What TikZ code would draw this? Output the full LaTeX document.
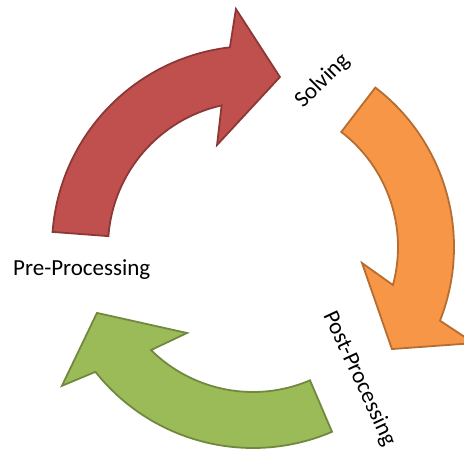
\documentclass[tikz,border=0pt]{standalone}
\usepackage{fontspec}
\setmainfont{Carlito}
\usetikzlibrary{calc}
\definecolor{redF}{HTML}{C0504D}
\definecolor{redD}{HTML}{8C3836}
\definecolor{orF}{HTML}{F79646}
\definecolor{orD}{HTML}{B66D31}
\definecolor{grF}{HTML}{9BBB59}
\definecolor{grD}{HTML}{71893F}
\begin{document}
\begin{tikzpicture}[x=1pt,y=1pt,
  arrowshape/.style={line width=1.8pt, line join=miter},
  redarrow/.style={arrowshape, fill=redF, draw=redD},
  orarrow/.style={arrowshape, fill=orF, draw=orD},
  grarrow/.style={arrowshape, fill=grF, draw=grD},
  lbl/.style={font=\fontsize{23}{27}\selectfont, inner sep=0pt, text=black}]
\path[use as bounding box] (0,0) rectangle (464,-454);
\clip (0,0) rectangle (464,-454);
\coordinate (C) at (253,-247);
% red arrow
\path[redarrow] ($(C)+(175.7:201)$) arc[start angle=175.7,end angle=96.6,radius=201]
  -- ($(C)+(94.1:238.6)$) -- ($(C)+(81:172.1)$) -- ($(C)+(109.4:108.2)$)
  -- ($(C)+(102.5:145)$) arc[start angle=102.5,end angle=175.7,radius=145] -- cycle;
% orange arrow
\path[orarrow] ($(C)+(52.5:201)$) arc[start angle=52.5,end angle=-21.5,radius=201]
  -- ($(C)+(-23.5:241)$) -- ($(C)+(-36.3:172.4)$) -- ($(C)+(-8.35:110.2)$)
  -- ($(C)+(-15.2:145)$) arc[start angle=-15.2,end angle=52.5,radius=145] -- cycle;
% green arrow
\path[grarrow] ($(C)+(-66.85:201)$) arc[start angle=-66.85,end angle=-141.6,radius=201]
  -- ($(C)+(-144:236.2)$) -- ($(C)+(-157.1:169.4)$) -- ($(C)+(-127.5:108.4)$)
  -- ($(C)+(-134.7:145)$) arc[start angle=-134.7,end angle=-66.85,radius=145] -- cycle;
% labels
\node[lbl, anchor=base west] (pre) at (13,-276) {Pre-Processing};
\node[lbl, anchor=base west, rotate=45] (solve) at (303,-109) {Solving};
\node[lbl, anchor=base west, rotate=-65] (post) at (323,-315) {Post-Processing};
\end{tikzpicture}
\end{document}
